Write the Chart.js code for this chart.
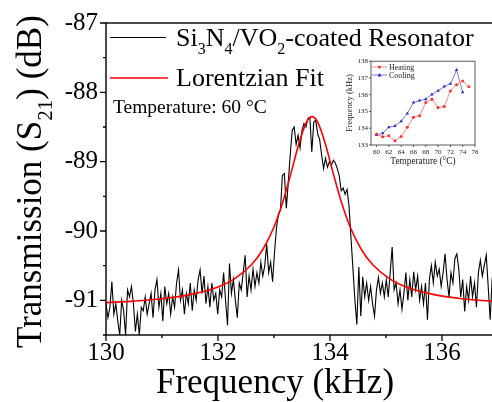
<!DOCTYPE html>
<html>
<head>
<meta charset="utf-8">
<script src="https://cdn.jsdelivr.net/npm/chart.js@4.4.0/dist/chart.umd.min.js"></script>
<style>
html, body { margin: 0; padding: 0; background: #fff; overflow: hidden; }
#wrap { position: relative; width: 500px; height: 402px; }
#mainChart { position: absolute; left: 0; top: 0; }
#insetChart { position: absolute; left: 336px; top: 54px; }
</style>
</head>
<body>
<div id="wrap">
  <canvas id="mainChart" width="500" height="402" style="width:500px;height:402px"></canvas>
  <canvas id="insetChart" width="156" height="116" style="width:156px;height:116px"></canvas>
</div>
<script>
// measured sweep: 130 -> 137 kHz, one point every 0.035 kHz
var sweepStart = 130;
var sweepStep = 0.035;
var transmission = [
  -91.05, -91.25, -91.1, -90.73, -91.2, -91.05, -91.3, -91.5, -91.0, -91.15,
  -91.5, -90.85, -90.95, -90.8, -91.05, -91.45, -91.2, -91.5, -91.1, -91.15,
  -90.95, -91.2, -91.05, -90.9, -91.25, -90.85, -90.7, -91.1, -90.9, -91.3,
  -90.8, -91.05, -90.9, -91.2, -90.95, -91.1, -90.75, -90.56, -91.0, -90.85,
  -91.2, -90.9, -91.05, -90.75, -91.15, -90.85, -91.0, -90.7, -90.56, -90.9,
  -90.65, -91.05, -90.8, -91.1, -90.75, -91.0, -90.9, -91.2, -90.85, -90.95,
  -90.6, -91.0, -91.36, -90.47, -90.9, -90.7, -91.0, -91.25, -90.75, -90.85,
  -90.6, -90.35, -90.95, -90.65, -90.85, -90.55, -90.8, -90.6, -90.75, -90.45,
  -90.65, -90.5, -90.19, -90.6, -90.45, -90.73, -90.3, -89.95, -89.75, -89.7,
  -89.2, -89.17, -89.67, -89.3, -88.9, -88.55, -88.5, -88.75, -88.62, -88.8,
  -88.55, -88.45, -88.5, -88.38, -88.36, -88.86, -88.43, -88.4, -88.6, -88.68,
  -88.9, -89.1, -88.95, -89.08, -89.0, -89.05, -88.98, -89.02, -89.1, -89.2,
  -89.42, -89.38, -89.47, -89.4, -89.64, -90.1, -90.55, -91.0, -91.35, -90.52,
  -91.23, -90.66, -90.95, -90.75, -91.0, -90.8, -91.05, -91.23, -90.85, -90.67,
  -90.9, -90.75, -90.95, -90.7, -90.95, -90.6, -90.23, -90.85, -90.75, -91.05,
  -90.85, -91.13, -90.9, -90.6, -91.0, -90.7, -90.95, -90.59, -90.85, -90.65,
  -91.0, -90.8, -91.05, -90.75, -91.28, -90.7, -90.5, -90.75, -90.45, -90.65,
  -90.55, -90.8, -90.6, -90.33, -90.7, -90.95, -90.6, -90.75, -90.4, -90.33,
  -90.55, -90.95, -90.7, -91.16, -90.8, -91.0, -90.65, -90.95, -90.75, -91.1,
  -90.6, -90.42, -90.65, -90.5, -90.35, -90.8, -91.28, -90.7, -90.5, -90.9,
  -90.6
];

// Lorentzian fit, sampled
var fitFreq = [130, 130.5, 131, 131.5, 132, 132.3, 132.6, 132.8, 133.0, 133.15,
  133.3, 133.45, 133.58, 133.68, 133.78, 133.91, 134.06, 134.21, 134.36, 134.56,
  134.76, 135.06, 135.36, 135.86, 136.36, 137];
var fitValue = [-91.033, -91.011, -90.977, -90.918, -90.807, -90.687, -90.484, -90.267, -89.942, -89.601,
  -89.176, -88.724, -88.429, -88.35, -88.429, -88.724, -89.176, -89.601, -89.942, -90.267,
  -90.484, -90.687, -90.807, -90.918, -90.977, -91.019];

var mainXTicks = [130, 132, 134, 136];
var mainXMinor = [131, 133, 135, 137];
var mainYTicks = [-87, -88, -89, -90, -91];
var mainYMinor = [-87.5, -88.5, -89.5, -90.5, -91.5];

// inset: resonance frequency vs temperature
var heatingTemp = [60, 61, 62, 63, 64, 65, 66, 67, 68, 69, 70, 71, 72, 73, 74, 75];
var heatingFreq = [133.65, 133.49, 133.55, 133.25, 133.51, 134.06, 134.65, 134.75, 135.53, 135.73, 135.24, 135.3, 136.22, 136.6, 136.82, 136.47];
var coolingTemp = [60, 61, 62, 63, 64, 65, 66, 67, 68, 69, 70, 71, 72, 73, 74];
var coolingFreq = [133.6, 133.7, 134.06, 134.14, 134.41, 134.88, 135.53, 135.65, 135.73, 136.02, 136.24, 136.49, 136.65, 137.47, 136.14];
var insetXTicks = [60, 62, 64, 66, 68, 70, 72, 74, 76];
var insetYTicks = [133, 134, 135, 136, 137, 138];

var FONT = '"Liberation Serif", "Times New Roman", serif';

function drawRich(ctx, parts, x, y, size) {
  var cx = x;
  parts.forEach(function (p) {
    var sub = p[1];
    ctx.font = (sub ? Math.round(size * 0.6) : size) + 'px ' + FONT;
    ctx.fillText(p[0], cx, y + (sub ? size * 0.3 : 0));
    cx += ctx.measureText(p[0]).width;
  });
}

var mainDecor = {
  id: 'mainDecor',
  afterDraw: function (chart) {
    var ctx = chart.ctx, a = chart.chartArea;
    var xs = chart.scales.x, ys = chart.scales.y;
    ctx.save();
    ctx.strokeStyle = '#000';
    ctx.lineWidth = 1.4;
    ctx.strokeRect(a.left, a.top, a.right - a.left, a.bottom - a.top);

    ctx.lineWidth = 1.3;
    ctx.beginPath();
    mainYTicks.forEach(function (v) {
      var p = ys.getPixelForValue(v);
      ctx.moveTo(a.left, p); ctx.lineTo(a.left - 6, p);
    });
    mainYMinor.forEach(function (v) {
      var p = ys.getPixelForValue(v);
      ctx.moveTo(a.left, p); ctx.lineTo(a.left - 3, p);
    });
    mainXTicks.forEach(function (v) {
      var p = xs.getPixelForValue(v);
      ctx.moveTo(p, a.bottom); ctx.lineTo(p, a.bottom + 6);
    });
    mainXMinor.forEach(function (v) {
      var p = xs.getPixelForValue(v);
      ctx.moveTo(p, a.bottom); ctx.lineTo(p, a.bottom + 3);
    });
    ctx.stroke();

    // legend
    ctx.lineWidth = 1.2;
    ctx.strokeStyle = '#000';
    ctx.beginPath(); ctx.moveTo(110, 37.5); ctx.lineTo(166, 37.5); ctx.stroke();
    ctx.strokeStyle = '#ff0000';
    ctx.lineWidth = 1.6;
    ctx.beginPath(); ctx.moveTo(110, 78); ctx.lineTo(168, 78); ctx.stroke();

    ctx.fillStyle = '#000';
    ctx.textBaseline = 'alphabetic';
    ctx.textAlign = 'left';
    drawRich(ctx, [['Si', 0], ['3', 1], ['N', 0], ['4', 1], ['/VO', 0], ['2', 1], ['-coated Resonator', 0]], 176, 46, 26);
    drawRich(ctx, [['Lorentzian Fit', 0]], 176, 86, 26);
    drawRich(ctx, [['Temperature: 60 \u00b0C', 0]], 113, 113, 19.5);

    // axis titles
    ctx.textAlign = 'center';
    ctx.font = '35px ' + FONT;
    ctx.fillText('Frequency (kHz)', 275, 393);

    ctx.save();
    ctx.translate(41, 348);
    ctx.rotate(-Math.PI / 2);
    ctx.textAlign = 'left';
    drawRich(ctx, [['Transmission (S', 0], ['21', 1], [') (dB)', 0]], 0, 0, 35);
    ctx.restore();

    ctx.restore();
  }
};

var mainPoints = transmission.map(function (v, i) {
  return { x: sweepStart + i * sweepStep, y: v };
});
var fitPoints = fitFreq.map(function (f, i) {
  return { x: f, y: fitValue[i] };
});

new Chart(document.getElementById('mainChart'), {
  type: 'line',
  data: {
    datasets: [{
      label: 'Lorentzian Fit',
      data: fitPoints,
      borderColor: '#ff0000',
      borderWidth: 1.6,
      pointRadius: 0,
      cubicInterpolationMode: 'monotone',
      fill: false
    }, {
      label: 'Si3N4/VO2-coated Resonator',
      data: mainPoints,
      borderColor: '#000',
      borderWidth: 1.1,
      pointRadius: 0,
      tension: 0,
      fill: false
    }]
  },
  options: {
    responsive: false,
    animation: false,
    layout: { padding: { top: 19, right: 2, left: 0, bottom: 0 } },
    plugins: { legend: { display: false }, tooltip: { enabled: false } },
    scales: {
      x: {
        type: 'linear', min: 130, max: 137,
        afterBuildTicks: function (s) { s.ticks = mainXTicks.map(function (v) { return { value: v }; }); },
        afterFit: function (s) { s.height = 67; },
        grid: { display: false, drawTicks: false },
        border: { display: false },
        ticks: { color: '#000', font: { family: FONT, size: 25 }, padding: 3, maxRotation: 0, autoSkip: false }
      },
      y: {
        type: 'linear', min: -91.5, max: -87,
        afterBuildTicks: function (s) { s.ticks = mainYTicks.map(function (v) { return { value: v }; }); },
        afterFit: function (s) { s.width = 106; },
        grid: { display: false, drawTicks: false },
        border: { display: false },
        ticks: { color: '#000', font: { family: FONT, size: 25 }, padding: 8, autoSkip: false }
      }
    }
  },
  plugins: [mainDecor]
});

var insetDecor = {
  id: 'insetDecor',
  afterDraw: function (chart) {
    var ctx = chart.ctx, a = chart.chartArea;
    var xs = chart.scales.x, ys = chart.scales.y;
    ctx.save();
    ctx.strokeStyle = '#333';
    ctx.lineWidth = 0.8;
    ctx.strokeRect(a.left, a.top, a.right - a.left, a.bottom - a.top);
    ctx.beginPath();
    insetYTicks.forEach(function (v) {
      var p = ys.getPixelForValue(v);
      ctx.moveTo(a.left, p); ctx.lineTo(a.left - 2, p);
    });
    insetXTicks.forEach(function (v) {
      var p = xs.getPixelForValue(v);
      ctx.moveTo(p, a.bottom); ctx.lineTo(p, a.bottom + 2);
    });
    ctx.stroke();

    // legend
    ctx.lineWidth = 1;
    ctx.strokeStyle = '#ff8a8a';
    ctx.beginPath(); ctx.moveTo(36, 13); ctx.lineTo(51, 13); ctx.stroke();
    ctx.fillStyle = '#ff3030';
    ctx.beginPath(); ctx.arc(43.5, 13, 1.5, 0, Math.PI * 2); ctx.fill();
    ctx.strokeStyle = '#7878dc';
    ctx.beginPath(); ctx.moveTo(36, 21); ctx.lineTo(51, 21); ctx.stroke();
    ctx.fillStyle = '#2a2ac0';
    ctx.beginPath(); ctx.moveTo(43.5, 19); ctx.lineTo(45.5, 22.5); ctx.lineTo(41.5, 22.5); ctx.closePath(); ctx.fill();

    ctx.fillStyle = '#222';
    ctx.textBaseline = 'middle';
    ctx.textAlign = 'left';
    ctx.font = '8px ' + FONT;
    ctx.fillText('Heating', 53, 13.5);
    ctx.fillText('Cooling', 53, 21.5);

    ctx.textAlign = 'center';
    ctx.font = '9.3px ' + FONT;
    ctx.fillText('Temperature (\u00b0C)', (a.left + a.right) / 2, 108);
    ctx.save();
    ctx.translate(14, (a.top + a.bottom) / 2);
    ctx.rotate(-Math.PI / 2);
    ctx.font = '8.5px ' + FONT;
    ctx.fillText('Frequency (kHz)', 0, 0);
    ctx.restore();
    ctx.restore();
  }
};

new Chart(document.getElementById('insetChart'), {
  type: 'line',
  data: {
    datasets: [{
      label: 'Heating',
      data: heatingTemp.map(function (t, i) { return { x: t, y: heatingFreq[i] }; }),
      borderColor: '#ff8a8a',
      borderWidth: 1,
      pointStyle: 'circle',
      pointRadius: 1.5,
      pointBorderWidth: 0,
      pointBackgroundColor: '#ff3030',
      tension: 0
    }, {
      label: 'Cooling',
      data: coolingTemp.map(function (t, i) { return { x: t, y: coolingFreq[i] }; }),
      borderColor: '#7878dc',
      borderWidth: 1,
      pointStyle: 'triangle',
      pointRadius: 2,
      pointBorderWidth: 0,
      pointBackgroundColor: '#2a2ac0',
      tension: 0
    }]
  },
  options: {
    responsive: false,
    animation: false,
    layout: { padding: { top: 6, right: 17, left: 0, bottom: 0 } },
    plugins: { legend: { display: false }, tooltip: { enabled: false } },
    scales: {
      x: {
        type: 'linear', min: 59.1, max: 76,
        afterBuildTicks: function (s) { s.ticks = insetXTicks.map(function (v) { return { value: v }; }); },
        afterFit: function (s) { s.height = 25; },
        grid: { display: false, drawTicks: false },
        border: { display: false },
        ticks: { color: '#222', font: { family: FONT, size: 7 }, padding: 3, maxRotation: 0, autoSkip: false }
      },
      y: {
        type: 'linear', min: 133, max: 138,
        afterBuildTicks: function (s) { s.ticks = insetYTicks.map(function (v) { return { value: v }; }); },
        afterFit: function (s) { s.width = 35; },
        grid: { display: false, drawTicks: false },
        border: { display: false },
        ticks: { color: '#222', font: { family: FONT, size: 7 }, padding: 3, autoSkip: false }
      }
    }
  },
  plugins: [insetDecor]
});
</script>
</body>
</html>
